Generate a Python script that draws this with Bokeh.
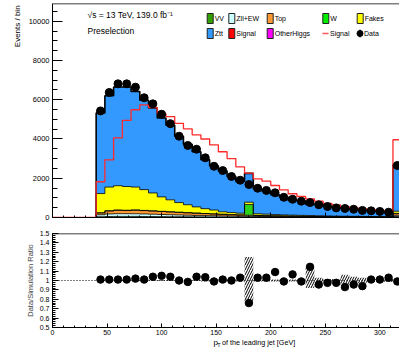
import numpy as np
from math import pi
from bokeh.plotting import figure
from bokeh.models import Label, Span, FixedTicker, PrintfTickFormatter, CustomJSTickFormatter
from bokeh.core.properties import value
from bokeh.layouts import column, row
from bokeh.embed import file_html
from bokeh.resources import INLINE

# ---------------- data ----------------
bin_edges = list(range(40, 328, 8))          # 35 bins, 40..320 GeV (last bin holds overflow)
bin_centers = [e + 4 for e in bin_edges[:-1]]

data_events = [5430, 6370, 6810, 6810, 6640, 6100, 5790, 5260, 4780, 4140,
               3670, 3480, 3040, 2610, 2390, 2090, 1900, 1680, 1490, 1380,
               1260, 1030, 930, 830, 760, 650, 560, 490, 460, 420,
               360, 340, 310, 270, 2650]

vv = [40, 50, 55, 55, 55, 50, 48, 45, 42, 40, 38, 35, 32, 30, 28, 25, 23, 22, 20, 18,
      17, 15, 14, 13, 12, 11, 10, 9, 9, 8, 8, 7, 7, 6, 50]
zll_ew = [100, 130, 140, 140, 135, 130, 120, 110, 100, 90, 80, 72, 65, 58, 52, 46, 42, 38, 34, 30,
          27, 24, 22, 20, 18, 16, 14, 13, 12, 11, 10, 9, 8, 7, 60]
top = [90, 150, 170, 160, 180, 170, 160, 150, 140, 130, 120, 110, 100, 90, 80, 70, 62, 55, 48, 42,
       38, 34, 30, 27, 24, 21, 19, 17, 15, 13, 12, 11, 10, 9, 80]
w = [10, 15, 15, 15, 15, 12, 12, 10, 10, 9, 8, 8, 7, 6, 6, 5, 5, 550, 5, 4,
     4, 4, 3, 3, 3, 3, 2, 2, 2, 2, 2, 2, 2, 2, 20]
fakes = [980, 1205, 1240, 1210, 1165, 1058, 910, 735, 608, 491, 404, 315, 246, 196, 124, 104, 88, 115, 83, 76,
         64, 53, 51, 47, 43, 39, 35, 29, 27, 26, 23, 21, 18, 16, 110]
ztt = [4110, 4650, 5030, 5070, 4870, 4550, 4330, 4020, 3800, 3380, 3080, 2810, 2490, 2260, 2080, 1840,
       1620, 1470, 1260, 1170, 1010, 910, 750, 730, 560, 590, 490, 430, 425, 380, 325, 290, 265, 220, 2360]

signal_line = [1820, 2940, 4060, 4950, 5490, 5740, 5600, 5280, 5140, 4800, 4520, 4210, 4000, 3700,
               3350, 3000, 2580, 2260, 1970, 1850, 1630, 1410, 1210, 1070, 950, 830, 720, 640,
               550, 500, 440, 400, 360, 320, 3960]

ratio = [1.01, 1.01, 1.01, 1.01, 1.02, 1.01, 1.04, 1.05, 1.04, 1.00, 0.985, 1.04, 1.035, 0.99,
         1.01, 1.00, 1.03, 0.76, 1.03, 1.03, 1.09, 0.99, 1.065, 0.99, 1.145, 0.957, 0.975, 0.975,
         0.93, 0.957, 0.94, 1.01, 1.01, 1.03, 0.99]
band_lo = [0.995] * 12 + [0.99] * 5 + [0.78] + [0.99] * 6 + [0.92, 0.97, 0.985, 0.985, 0.95, 0.97, 0.97,
                                                            0.985, 0.985, 0.985, 0.985]
band_hi = [1.005] * 12 + [1.01] * 5 + [1.25] + [1.01] * 6 + [1.14, 1.03, 1.015, 1.015, 1.06, 1.04, 1.03,
                                                            1.015, 1.015, 1.015, 1.015]

stack_names = ["VV", "Zll+EW", "Top", "W", "Fakes", "Ztt"]
stack_values = [vv, zll_ew, top, w, fakes, ztt]
stack_colors = ["#33a000", "#ccffff", "#ff9933", "#2ed11a", "#ffff00", "#3399ff"]

x_ticks = [0, 50, 100, 150, 200, 250, 300]
y_ticks_top = [0, 2000, 4000, 6000, 8000, 10000]

# ---------------- geometry ----------------
FONT = "Liberation Sans"
TITLE_W = 24          # strip holding the "Events / bin" title
LEFT = 52             # page x of the frames' left edge
FRAME_W = 347
XMAX = 318
PXG = FRAME_W / XMAX
TOP_BORDER = 3
TOP_FRAME_H = 214
TOP_H = 225
YMAX = 10902
BOT_TOP = 8
BOT_FRAME_H = 94
BOT_H = 113
XT_H = 16             # strip holding the x-axis title


def tx(px):  # page x -> GeV
    return (px - LEFT) / PXG


def ty(py):  # page y -> events (top panel)
    return (TOP_BORDER + TOP_FRAME_H - py) / TOP_FRAME_H * YMAX


def style_axis(ax, t_in, m_in, fs="7.5px", standoff=3):
    ax.axis_line_color = "black"
    ax.axis_line_width = 1
    ax.major_tick_in = t_in
    ax.major_tick_out = 0
    ax.minor_tick_in = m_in
    ax.minor_tick_out = 0
    ax.major_tick_line_color = "black"
    ax.minor_tick_line_color = "black"
    ax.major_label_text_font = FONT
    ax.major_label_text_font_size = fs
    ax.major_label_text_color = "black"
    ax.major_label_standoff = standoff


def text_strip(w, h):
    f = figure(width=w, height=h, x_range=(0, w), y_range=(0, h), x_axis_type=None, y_axis_type=None,
               output_backend="svg", toolbar_location=None, min_border=0)
    f.outline_line_color = None
    f.grid.visible = False
    return f


# ---------------- y title strip ----------------
ts = text_strip(TITLE_W, TOP_H)
ts.text(x=[17], y=[TOP_H - 2], text=["Events / bin"], angle=pi / 2, text_align="right",
        text_baseline="middle", text_font=value(FONT), text_font_size="8px", text_color="black")

# ---------------- top panel ----------------
p1 = figure(width=LEFT - TITLE_W + FRAME_W, height=TOP_H, x_range=(0, XMAX), y_range=(0, YMAX),
            output_backend="svg", toolbar_location=None,
            min_border_left=LEFT - TITLE_W, min_border_right=0, min_border_top=TOP_BORDER,
            min_border_bottom=TOP_H - TOP_BORDER - TOP_FRAME_H)
p1.outline_line_color = None
p1.grid.visible = False

edges = np.array(bin_edges, dtype=float)
lower = np.zeros(len(bin_centers))
for vals, col in zip(stack_values, stack_colors):
    upper = lower + np.array(vals, dtype=float)
    p1.varea_step(x=edges, y1=np.append(lower, lower[-1]), y2=np.append(upper, upper[-1]),
                  step_mode="after", fill_color=col)
    lower = upper
lower = np.zeros(len(bin_centers))
for i, vals in enumerate(stack_values):
    upper = lower + np.array(vals, dtype=float)
    p1.step(x=np.concatenate([[edges[0]], edges]), y=np.concatenate([[0], upper, [upper[-1]]]),
            mode="after", line_color="black", line_width=1.6 if i == len(stack_values) - 1 else 0.8)
    lower = upper

sig = np.array(signal_line, dtype=float)
p1.step(x=np.concatenate([[0], edges]), y=np.concatenate([[0], sig, [sig[-1]]]),
        mode="after", line_color="#ff2a2a", line_width=1.3)

p1.scatter(bin_centers, data_events, size=8, color="black")

p1.add_layout(Span(location=YMAX, dimension="width", line_color="black", line_width=1.5))

style_axis(p1.yaxis[0], 10, 5)
p1.yaxis[0].ticker = FixedTicker(ticks=y_ticks_top, minor_ticks=list(range(0, 11000, 500)))
p1.yaxis[0].formatter = PrintfTickFormatter(format="%g")
style_axis(p1.xaxis[0], 5, 2, standoff=0)
p1.xaxis[0].ticker = FixedTicker(ticks=x_ticks, minor_ticks=list(range(0, 320, 10)))
p1.xaxis[0].formatter = CustomJSTickFormatter(code="return ''")

p1.add_layout(Label(x=tx(87), y=ty(14), text="√s = 13 TeV, 139.0 fb⁻¹", text_baseline="middle",
                    text_font=FONT, text_font_size="8.5px", text_color="black"))
p1.add_layout(Label(x=tx(87), y=ty(30), text="Preselection", text_baseline="middle",
                    text_font=FONT, text_font_size="8.5px", text_color="black"))

# legend
leg_boxes = [(209.7, 18, "#33a000", "VV"), (231.3, 18, "#ccffff", "Zll+EW"), (269.7, 18, "#ff9933", "Top"),
             (325.3, 18, "#00ee00", "W"), (359.7, 18, "#ffff00", "Fakes"),
             (209.7, 33, "#3399ff", "Ztt"), (231.3, 33, "#ff0000", "Signal"), (269.7, 33, "#ff00ff", "OtherHiggs")]
p1.rect(x=[tx(b[0]) for b in leg_boxes], y=[ty(b[1]) for b in leg_boxes], width=6, height=10,
        width_units="screen", height_units="screen", fill_color=[b[2] for b in leg_boxes],
        line_color="#222222", line_width=1)
for bx, by, _, name in leg_boxes:
    p1.add_layout(Label(x=tx(bx + 4.5), y=ty(by), text=name, text_baseline="middle",
                        text_font=FONT, text_font_size="7px", text_color="black"))
p1.line(x=[tx(322), tx(328)], y=[ty(33), ty(33)], line_color="#ff5555", line_width=1.5)
p1.add_layout(Label(x=tx(329.5), y=ty(33), text="Signal", text_baseline="middle",
                    text_font=FONT, text_font_size="7px", text_color="black"))
p1.segment(x0=[tx(359.5)], y0=[ty(29)], x1=[tx(359.5)], y1=[ty(37)], line_color="#000066", line_width=1)
p1.scatter([tx(359.5)], [ty(33)], size=6, color="black")
p1.add_layout(Label(x=tx(363.5), y=ty(33), text="Data", text_baseline="middle",
                    text_font=FONT, text_font_size="7px", text_color="black"))

# ---------------- ratio panel ----------------
p2 = figure(width=LEFT + FRAME_W, height=BOT_H, x_range=p1.x_range, y_range=(0.5, 1.5),
            output_backend="svg", toolbar_location=None,
            min_border_left=LEFT, min_border_right=0, min_border_top=BOT_TOP,
            min_border_bottom=BOT_H - BOT_TOP - BOT_FRAME_H)
p2.outline_line_color = None
p2.grid.visible = False

p2.quad(left=edges[:-1], right=edges[1:], bottom=band_lo, top=band_hi, fill_color=None, line_color=None,
        hatch_pattern="/", hatch_color="black", hatch_scale=5, hatch_weight=1)
p2.add_layout(Span(location=1.0, dimension="width", line_color="black", line_width=1, line_dash="1 2"))
p2.scatter(bin_centers, ratio, size=7.5, color="black")
p2.add_layout(Span(location=1.5, dimension="width", line_color="black", line_width=1.5))

style_axis(p2.yaxis[0], 6, 3, fs="7px")
p2.yaxis[0].ticker = FixedTicker(ticks=list(np.round(np.arange(0.5, 1.51, 0.1), 2)),
                                 minor_ticks=list(np.round(np.arange(0.5, 1.51, 0.02), 2)))
p2.yaxis[0].formatter = PrintfTickFormatter(format="%g")
p2.yaxis[0].axis_label = "Data/Simulation Ratio"
p2.yaxis[0].axis_label_text_font = FONT
p2.yaxis[0].axis_label_text_font_size = "7.5px"
p2.yaxis[0].axis_label_text_font_style = "normal"
p2.yaxis[0].axis_label_standoff = 2

style_axis(p2.xaxis[0], 4, 2, fs="7px", standoff=2)
p2.xaxis[0].ticker = FixedTicker(ticks=x_ticks, minor_ticks=list(range(0, 320, 10)))

# ---------------- x title strip ----------------
xs = text_strip(LEFT + FRAME_W, XT_H)
xs.text(x=[185], y=[XT_H - 3.7], text=["p"], text_baseline="middle", text_font=value(FONT),
        text_font_size="8px", text_color="black")
xs.text(x=[189.3], y=[XT_H - 6.6], text=["T"], text_baseline="middle", text_font=value(FONT),
        text_font_size="5.5px", text_color="black")
xs.text(x=[195], y=[XT_H - 3.7], text=["of the leading jet [GeV]"], text_baseline="middle",
        text_font=value(FONT), text_font_size="7.2px", text_color="black")

layout = column(row(ts, p1), p2, xs)
open("out.html", "w").write(file_html(layout, INLINE))
